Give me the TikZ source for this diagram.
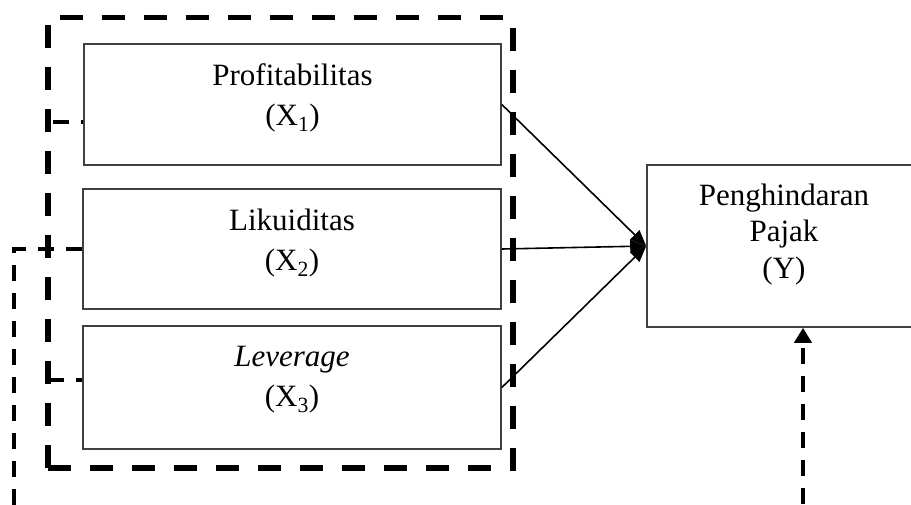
\documentclass[tikz,border=0pt]{standalone}
\usepackage{fontspec}
\setmainfont{Liberation Serif}
\usetikzlibrary{arrows.meta}

\tikzset{
  varbox/.style={draw=black!75, line width=1.6pt, inner sep=0pt},
  vartext/.style={anchor=north, inner sep=0pt, align=center, font=\fontsize{31}{40}\selectfont},
  grpline/.style={line width=5.5pt, dash pattern=on 23pt off 19pt},
  linkdash/.style={line width=4pt, dash pattern=on 16pt off 12pt},
  effect/.style={line width=1.6pt, -{Triangle[length=16pt,width=13pt]}}
}

\begin{document}
\begin{tikzpicture}[x=1pt, y=-1pt]
	\useasboundingbox (0,0) rectangle (911,504);
	\clip (0,0) rectangle (911,504);

	% independent variables
	\node[varbox, minimum width=417pt, minimum height=121pt] (x1) at (292.5,104.5) {};
	\node[vartext] (x1t) at ([yshift=-20.5pt]x1.north) {Profitabilitas\\(X\textsubscript{1})};
	\node[varbox, minimum width=418pt, minimum height=120pt] (x2) at (292,249) {};
	\node[vartext] (x2t) at ([yshift=-20.5pt]x2.north) {Likuiditas\\(X\textsubscript{2})};
	\node[varbox, minimum width=418pt, minimum height=123pt] (x3) at (292,387.5) {};
	\node[vartext] (x3t) at ([yshift=-20.5pt]x3.north) {\textit{Leverage}\\(X\textsubscript{3})};

	% dependent variable
	\node[varbox, minimum width=274pt, minimum height=162pt] (y) at (784,246) {};
	\node[vartext, font=\fontsize{31}{36.5}\selectfont] (yt) at ([yshift=-19.5pt]y.north) {Penghindaran\\Pajak\\(Y)};

	% dashed group frame round X1..X3
	\coordinate (gsw) at (48,468);
	\coordinate (gne) at (513,17.5);
	\draw[grpline] (gsw) -- (gsw |- gne) -- (gne);
	\draw[grpline] (gsw) -- (gne |- gsw) -- (gne);

	% links into the frame
	\coordinate (j1) at (48,122);
	\coordinate (j3) at (48,380);
	\draw[linkdash, dash phase=14pt] (j1 -| x1.west) -- (j1);
	\draw[linkdash, dash phase=10pt] (j3 -| x3.west) -- (j3);

	% X2 round the bottom into Y
	\coordinate (lowl) at (14,536);
	\coordinate (lowr) at (803,536);
	\draw[linkdash, -{Triangle[length=15pt,width=17pt]}] (x2.west) -| (lowl) -- (lowr) -- (lowr |- y.south);

	\draw[effect] (x1.east) -- (y.west);
	\draw[effect] (x2.east) -- (y.west);
	\draw[effect] (x3.east) -- (y.west);
\end{tikzpicture}
\end{document}
